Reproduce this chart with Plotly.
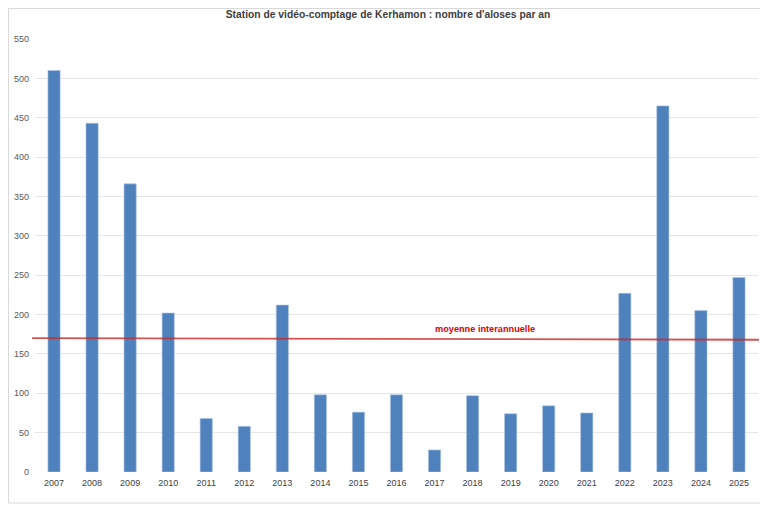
import plotly.graph_objects as go

years = [str(y) for y in range(2007, 2026)]
aloses = [510, 443, 366, 202, 68, 58, 212, 98, 76, 98, 28, 97, 74, 84, 75, 227, 465, 205, 247]
mean_start = 170
mean_end = 168
y_ticks = list(range(0, 551, 50))

FONT = "Liberation Sans, Arial"

fig = go.Figure()
fig.add_trace(go.Bar(
    x=years, y=aloses,
    marker=dict(color="#4f81bd", line=dict(color="#a9c3e3", width=0.6)),
    hoverinfo="x+y",
))

# moyenne interannuelle (trait légèrement incliné comme l'original)
fig.add_shape(type="line", xref="paper", yref="y",
              x0=-0.004, x1=1.0014, y0=mean_start, y1=mean_end,
              line=dict(color="rgba(200,40,40,0.8)", width=1.8))
fig.add_annotation(text="<b>moyenne interannuelle</b>", xref="paper", yref="y",
                   x=0.622, y=(mean_start + mean_end) / 2 + 13, showarrow=False,
                   font=dict(family=FONT, size=9.2, color="#e00000"))

# cadre du graphique
fig.add_shape(type="rect", xref="paper", yref="paper",
              x0=-0.0367, x1=1.0111, y0=-0.0716, y1=1.0704,
              line=dict(color="#d9d9d9", width=1))

# la page garde une marge de 8 px : figure réduite d'autant
fig.update_layout(
    width=760, height=497,
    title=dict(text="<b>Station de vidéo-comptage de Kerhamon : nombre d'aloses par an</b>",
               x=0.5, xanchor="center", y=0.988, yanchor="middle",
               font=dict(family=FONT, size=10.3, color="#404040")),
    font=dict(family=FONT, size=9, color="#595959"),
    bargap=0.68,
    showlegend=False,
    plot_bgcolor="white", paper_bgcolor="white",
    margin=dict(l=27, r=10, t=31, b=33, autoexpand=False),
    xaxis=dict(type="category", showgrid=False, ticks="", showline=False,
               automargin=False, ticklabelstandoff=4,
               tickfont=dict(size=9, color="#404040")),
    yaxis=dict(range=[0, 550], tickvals=y_ticks, gridcolor="#e6e6e6", gridwidth=1,
               zeroline=False, showline=False, ticks="", ticklabelstandoff=5,
               automargin=False, tickfont=dict(size=9, color="#595959")),
)

fig.write_html("out.html")
